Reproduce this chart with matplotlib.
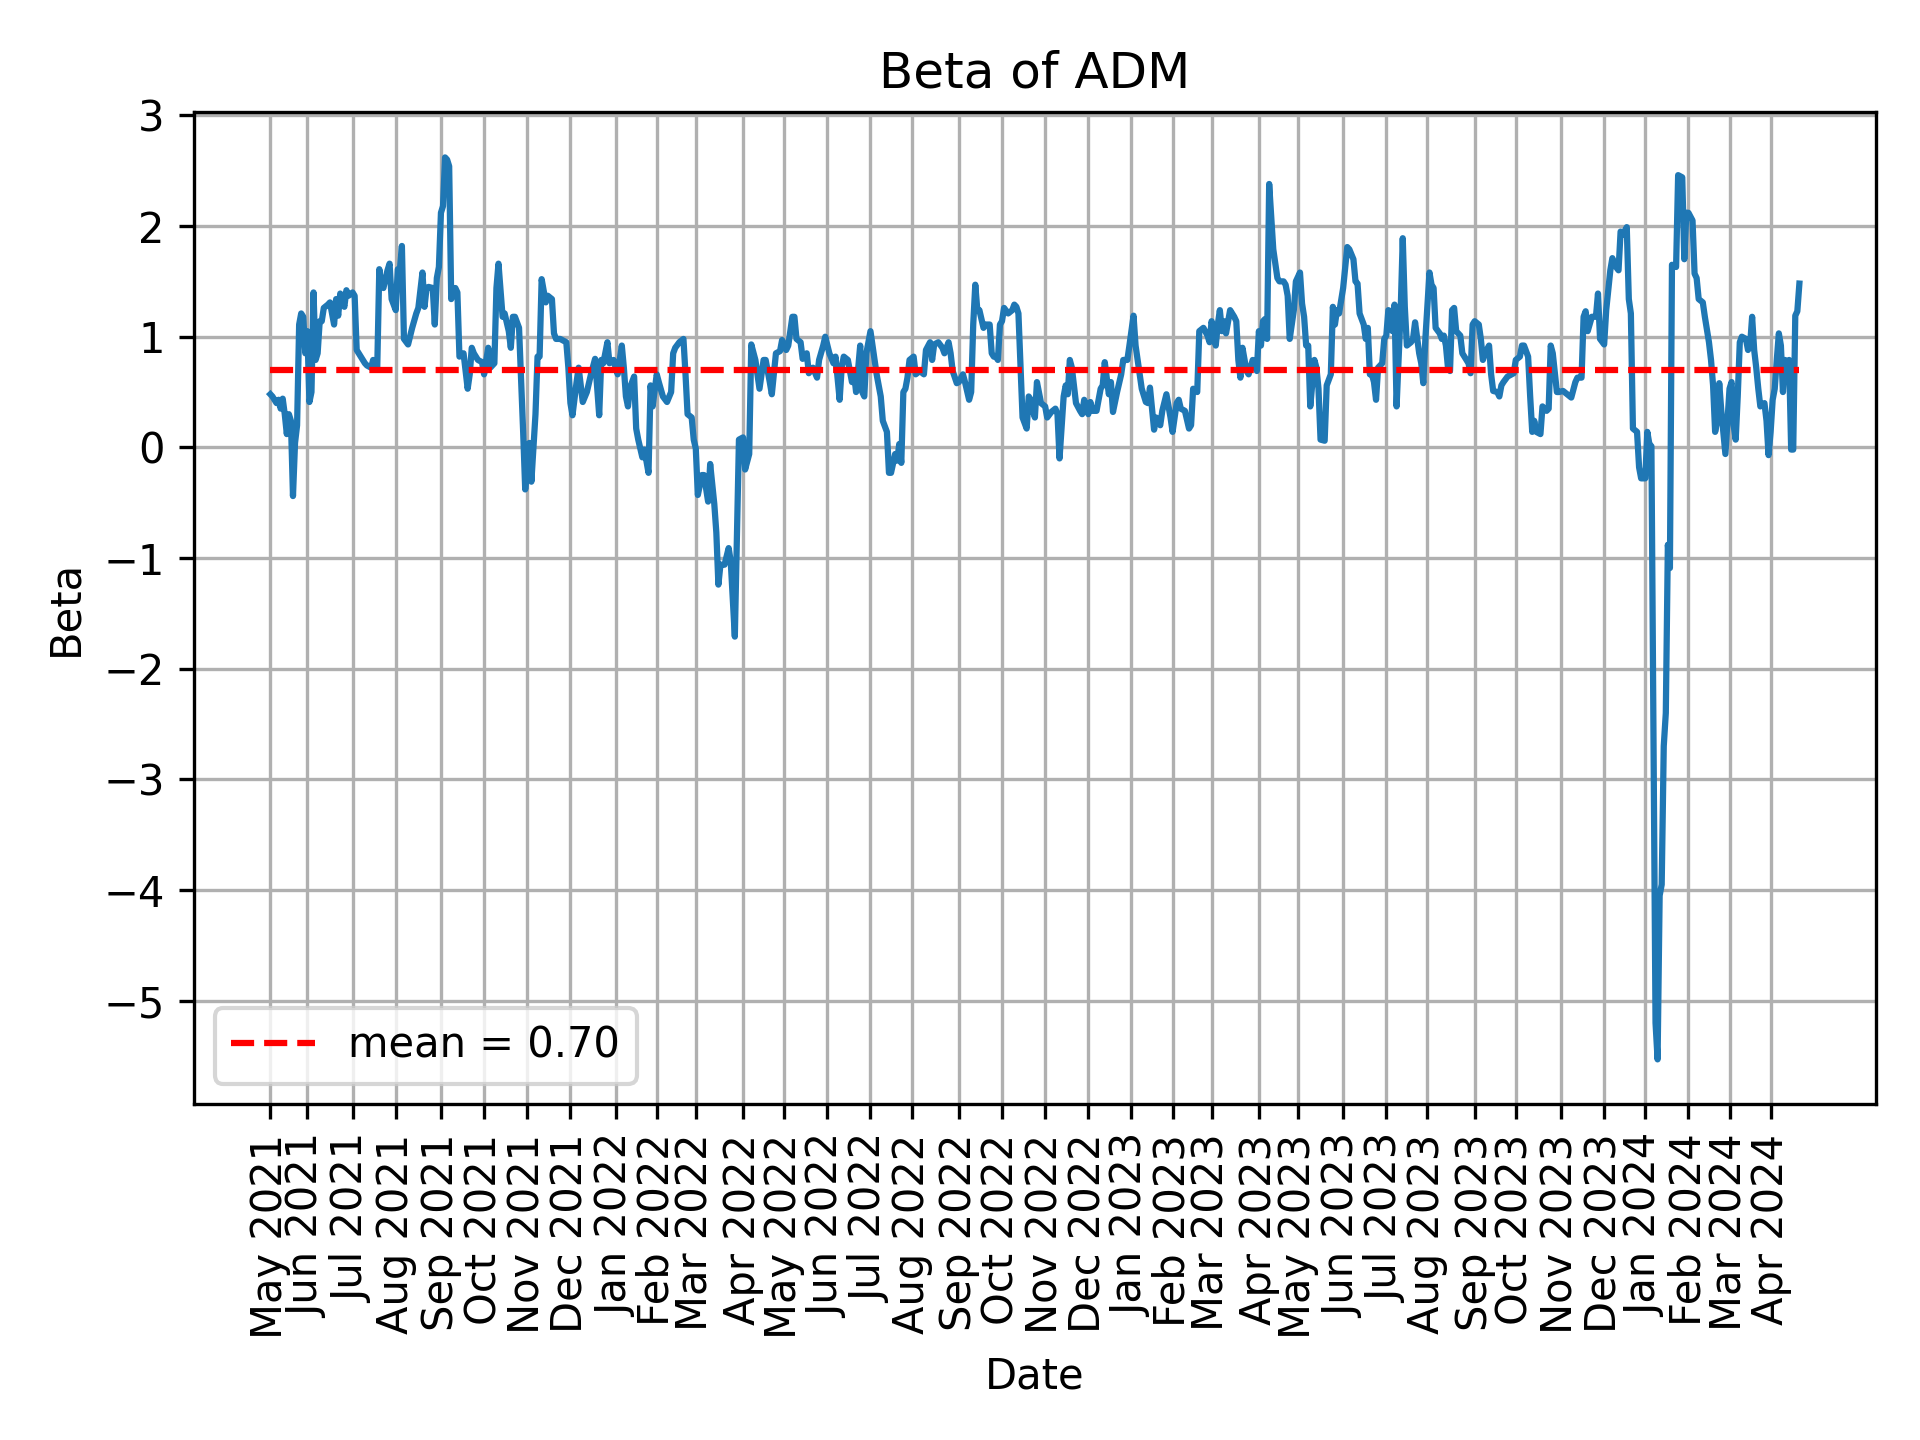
import matplotlib
matplotlib.use("Agg")
import matplotlib.pyplot as plt
import pandas as pd

# NYSE market holidays in the period (used to build the trading-session calendar)
holidays = [
    "2021-05-31", "2021-07-05", "2021-09-06", "2021-11-25", "2021-12-24",
    "2022-01-17", "2022-02-21", "2022-04-15", "2022-05-30", "2022-06-20",
    "2022-07-04", "2022-09-05", "2022-11-24", "2022-12-26",
    "2023-01-02", "2023-01-16", "2023-02-20", "2023-04-07", "2023-05-29",
    "2023-06-19", "2023-07-04", "2023-09-04", "2023-11-23", "2023-12-25",
    "2024-01-01", "2024-01-15", "2024-02-19", "2024-03-29",
]
first_date = "2021-05-05"
last_date = "2024-04-19"

# Rolling beta: session number (trading days since first_date) and value
session = [
    0, 1, 3, 4, 5, 6, 7, 8, 9, 10, 11, 12, 13, 14, 15, 16, 17, 18, 19, 20,
    21, 22, 23, 24, 25, 26, 28, 29, 31, 32, 33, 34, 36, 37, 38, 40, 41, 42, 44, 46,
    47, 49, 50, 52, 53, 54, 55, 57, 58, 59, 61, 62, 63, 64, 65, 67, 69, 71, 72, 74,
    75, 76, 77, 79, 80, 81, 82, 83, 84, 85, 86, 87, 88, 89, 90, 91, 92, 94, 96, 97,
    98, 99, 101, 103, 104, 106, 107, 109, 110, 111, 113, 114, 116, 117, 118, 119, 121, 123, 124, 126,
    127, 129, 130, 131, 132, 134, 135, 137, 138, 139, 141, 144, 145, 146, 147, 149, 150, 152, 154, 156,
    158, 160, 161, 162, 164, 165, 167, 168, 169, 171, 172, 173, 174, 175, 177, 178, 179, 181, 182, 184,
    185, 186, 188, 189, 191, 193, 195, 196, 197, 199, 201, 202, 203, 205, 206, 207, 208, 210, 211, 213,
    214, 216, 217, 218, 219, 221, 223, 224, 226, 228, 230, 231, 233, 234, 236, 238, 240, 241, 243, 244,
    246, 248, 249, 251, 252, 254, 255, 256, 258, 259, 261, 262, 264, 266, 267, 269, 270, 272, 274, 275,
    277, 278, 279, 281, 283, 284, 285, 287, 288, 289, 290, 292, 294, 295, 297, 298, 300, 301, 302, 304,
    305, 306, 307, 308, 309, 310, 311, 313, 314, 316, 318, 319, 321, 322, 323, 325, 327, 328, 330, 331,
    332, 334, 335, 337, 338, 340, 341, 342, 343, 344, 345, 347, 348, 350, 351, 352, 353, 354, 355, 356,
    357, 359, 361, 362, 363, 364, 366, 368, 369, 370, 371, 372, 373, 375, 377, 378, 380, 382, 383, 384,
    386, 387, 388, 389, 390, 392, 394, 395, 396, 398, 399, 400, 402, 404, 405, 406, 408, 409, 410, 412,
    414, 415, 417, 418, 420, 421, 423, 424, 426, 427, 428, 430, 431, 433, 434, 436, 438, 439, 441, 442,
    443, 445, 447, 448, 449, 451, 452, 454, 456, 457, 458, 460, 461, 462, 463, 464, 465, 467, 469, 470,
    471, 472, 473, 475, 476, 478, 480, 481, 482, 483, 484, 485, 486, 488, 490, 491, 493, 494, 495, 496,
    498, 499, 501, 502, 503, 504, 505, 506, 508, 509, 510, 511, 513, 514, 516, 517, 518, 519, 520, 522,
    523, 524, 525, 527, 528, 529, 530, 532, 533, 534, 535, 536, 537, 538, 539, 541, 542, 543, 544, 545,
    546, 547, 548, 550, 551, 552, 553, 555, 556, 557, 559, 560, 561, 562, 564, 565, 566, 567, 569, 570,
    571, 572, 573, 574, 575, 576, 577, 579, 580, 581, 583, 584, 585, 586, 588, 589, 590, 591, 593, 594,
    595, 597, 598, 599, 600, 602, 604, 605, 606, 608, 609, 610, 612, 613, 614, 615, 616, 618, 619, 621,
    622, 623, 624, 626, 627, 629, 631, 633, 635, 636, 638, 639, 640, 641, 643, 645, 646, 647, 649, 650,
    652, 653, 654, 656, 657, 658, 660, 661, 662, 663, 665, 666, 667, 669, 670, 671, 672, 674, 675, 676,
    677, 678, 679, 680, 681, 682, 684, 685, 687, 688, 689, 690, 692, 693, 694, 695, 697, 698, 700, 701,
    702, 703, 704, 705, 706, 707, 708, 710, 711, 712, 713, 714, 715, 716, 718, 719, 720, 721, 722, 723,
    724, 725, 727, 728, 729, 730, 731, 732, 733, 734, 735, 736, 737, 738, 739, 740, 741, 742, 743, 744,
]
beta = [
    0.48, 0.46, 0.40, 0.43, 0.35, 0.44, 0.30, 0.12, 0.30, 0.24, -0.44, 0.04, 0.20, 1.11, 1.21, 1.18, 0.85, 1.05, 0.41, 0.50,
    1.40, 0.79, 0.85, 1.14, 1.14, 1.26, 1.29, 1.31, 1.11, 1.34, 1.19, 1.39, 1.27, 1.42, 1.37, 1.40, 1.37, 0.88, 0.82, 0.76,
    0.74, 0.72, 0.79, 0.72, 1.61, 1.47, 1.44, 1.60, 1.66, 1.34, 1.24, 1.61, 1.60, 1.82, 0.98, 0.93, 1.08, 1.21, 1.26, 1.58,
    1.27, 1.44, 1.45, 1.44, 1.11, 1.53, 1.63, 2.12, 2.18, 2.62, 2.60, 2.54, 1.34, 1.40, 1.44, 1.40, 0.82, 0.85, 0.53, 0.66,
    0.90, 0.85, 0.79, 0.77, 0.66, 0.90, 0.72, 0.76, 1.44, 1.66, 1.18, 1.21, 1.05, 0.90, 1.18, 1.18, 1.08, 0.14, -0.38, 0.04,
    -0.31, 0.30, 0.82, 0.82, 1.52, 1.31, 1.37, 1.34, 1.03, 0.98, 0.98, 0.95, 0.72, 0.40, 0.29, 0.59, 0.72, 0.41, 0.50, 0.66,
    0.80, 0.29, 0.79, 0.76, 0.95, 0.76, 0.79, 0.72, 0.66, 0.92, 0.72, 0.46, 0.37, 0.54, 0.64, 0.17, 0.07, -0.09, -0.02, -0.23,
    0.56, 0.37, 0.66, 0.59, 0.46, 0.41, 0.50, 0.85, 0.90, 0.95, 0.98, 0.66, 0.30, 0.27, 0.07, -0.01, -0.43, -0.25, -0.25, -0.49,
    -0.15, -0.51, -0.77, -1.24, -1.06, -1.06, -0.91, -1.03, -1.71, 0.07, 0.09, -0.20, -0.06, 0.93, 0.79, 0.53, 0.79, 0.79, 0.59, 0.48,
    0.85, 0.87, 0.97, 0.88, 0.92, 1.18, 1.18, 0.98, 0.95, 0.80, 0.85, 0.67, 0.72, 0.63, 0.79, 0.92, 1.00, 0.85, 0.76, 0.82,
    0.43, 0.72, 0.82, 0.79, 0.59, 0.67, 0.50, 0.92, 0.50, 0.46, 0.85, 1.05, 0.79, 0.66, 0.46, 0.24, 0.14, -0.23, -0.23, -0.06,
    -0.12, 0.03, -0.14, 0.50, 0.53, 0.63, 0.79, 0.82, 0.66, 0.69, 0.66, 0.88, 0.95, 0.79, 0.93, 0.95, 0.90, 0.85, 0.95, 0.85,
    0.69, 0.58, 0.59, 0.66, 0.59, 0.43, 0.50, 1.11, 1.47, 1.24, 1.24, 1.08, 1.11, 1.11, 0.85, 0.82, 0.82, 0.79, 1.11, 1.14,
    1.26, 1.21, 1.24, 1.29, 1.27, 1.21, 0.27, 0.17, 0.46, 0.43, 0.33, 0.27, 0.59, 0.40, 0.37, 0.27, 0.32, 0.35, 0.30, -0.10,
    0.46, 0.56, 0.48, 0.79, 0.72, 0.40, 0.33, 0.30, 0.43, 0.30, 0.41, 0.33, 0.33, 0.53, 0.56, 0.77, 0.48, 0.59, 0.32, 0.50,
    0.66, 0.79, 0.79, 0.92, 1.19, 0.92, 0.66, 0.53, 0.41, 0.40, 0.54, 0.16, 0.27, 0.20, 0.33, 0.48, 0.27, 0.14, 0.40, 0.43,
    0.35, 0.33, 0.17, 0.20, 0.53, 0.50, 1.05, 1.08, 1.01, 0.95, 1.14, 0.92, 1.11, 1.24, 1.05, 1.14, 1.03, 1.24, 1.18, 1.14,
    0.79, 0.63, 0.90, 0.69, 0.66, 0.79, 0.69, 1.05, 0.92, 1.14, 1.16, 0.98, 2.38, 1.79, 1.53, 1.50, 1.50, 1.47, 1.37, 0.98,
    1.24, 1.50, 1.58, 1.30, 1.18, 0.92, 0.92, 0.37, 0.79, 0.72, 0.53, 0.07, 0.06, 0.56, 0.66, 1.27, 1.11, 1.24, 1.21, 1.44,
    1.63, 1.81, 1.79, 1.70, 1.50, 1.48, 1.21, 1.11, 0.98, 1.08, 0.66, 0.66, 0.59, 0.43, 0.72, 0.76, 0.98, 1.01, 1.24, 1.23,
    1.05, 1.29, 0.37, 1.24, 1.89, 1.27, 0.92, 0.95, 0.98, 1.13, 0.85, 0.76, 0.58, 0.98, 1.58, 1.47, 1.44, 1.08, 1.03, 0.98,
    1.01, 0.92, 0.72, 0.69, 1.24, 1.26, 1.05, 1.01, 0.85, 0.82, 0.76, 0.67, 1.11, 1.14, 1.11, 0.98, 0.79, 0.85, 0.92, 0.66,
    0.51, 0.50, 0.46, 0.56, 0.59, 0.64, 0.66, 0.67, 0.79, 0.82, 0.92, 0.92, 0.82, 0.46, 0.14, 0.24, 0.14, 0.12, 0.37, 0.33,
    0.35, 0.92, 0.85, 0.50, 0.50, 0.51, 0.48, 0.45, 0.59, 0.63, 0.63, 1.18, 1.23, 1.05, 1.18, 1.18, 1.39, 0.98, 0.93, 1.24,
    1.60, 1.71, 1.65, 1.60, 1.95, 1.92, 1.99, 1.34, 1.21, 0.17, 0.14, -0.18, -0.28, -0.28, 0.14, 0.03, 0.01, -5.20, -5.53, -4.05,
    -3.95, -2.70, -2.40, -0.88, -1.09, 1.65, 1.63, 2.46, 2.44, 1.70, 2.12, 2.12, 2.05, 1.57, 1.53, 1.34, 1.31, 1.18, 0.95, 0.79,
    0.56, 0.14, 0.24, 0.58, 0.33, 0.14, -0.06, 0.53, 0.59, 0.20, 0.07, 0.46, 0.95, 1.00, 0.98, 0.88, 0.92, 1.18, 0.88, 0.72,
    0.53, 0.37, 0.40, 0.24, -0.07, 0.14, 0.43, 0.53, 0.79, 1.03, 0.92, 0.50, 0.79, 0.66, 0.79, -0.02, -0.02, 1.19, 1.23, 1.48,
]
mean_beta = 0.70

ticker = "ADM"

# Trading-session calendar
days = pd.bdate_range(first_date, last_date, freq="C", holidays=holidays)
n_sessions = len(days)
month_first = pd.Series(range(n_sessions), index=days).groupby(days.to_period("M")).first()
tick_pos = list(month_first.values)
tick_labels = [p.strftime("%b %Y") for p in month_first.index]

fig, ax = plt.subplots(figsize=(6.4, 4.8), dpi=300)
ax.plot(session, beta, color="C0", linewidth=1.5)
ax.plot([session[0], session[-1]], [mean_beta, mean_beta], "r--",
        linewidth=1.5, label=f"mean = {mean_beta:.2f}")
ax.set_xticks(tick_pos)
ax.set_xticklabels(tick_labels, rotation=90)
ax.set_title(f"Beta of {ticker}")
ax.set_xlabel("Date")
ax.set_ylabel("Beta")
ax.grid(True)
ax.legend(loc="lower left")
fig.subplots_adjust(left=0.101, right=0.977, top=0.922, bottom=0.233)
fig.savefig("out.png", dpi=300)
